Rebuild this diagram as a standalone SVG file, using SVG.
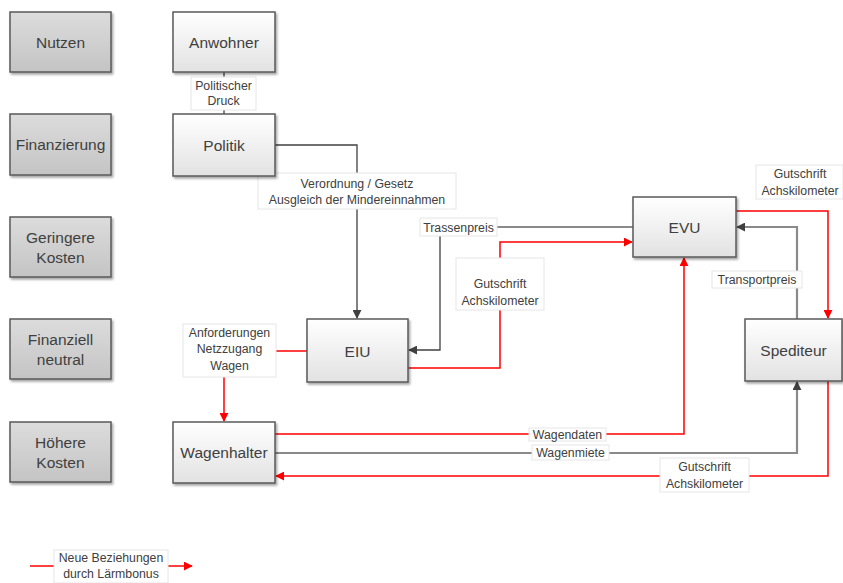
<svg xmlns="http://www.w3.org/2000/svg" width="843" height="583" viewBox="0 0 843 583">
  <defs>
    <linearGradient id="gCat" x1="0" y1="0" x2="0" y2="1">
      <stop offset="0" stop-color="#dcdcdc"/>
      <stop offset="1" stop-color="#c4c4c4"/>
    </linearGradient>
    <linearGradient id="gAct" x1="0" y1="0" x2="0" y2="1">
      <stop offset="0" stop-color="#ffffff"/>
      <stop offset="1" stop-color="#e2e2e2"/>
    </linearGradient>
    <filter id="shadow" x="-10%" y="-10%" width="125%" height="130%">
      <feDropShadow dx="1.5" dy="2" stdDeviation="1.2" flood-color="#000" flood-opacity="0.35"/>
    </filter>
    <marker id="aGray" viewBox="0 0 10 10" refX="9" refY="5" markerWidth="9" markerHeight="9" markerUnits="userSpaceOnUse" orient="auto">
      <path d="M0,0 L10,5 L0,10 z" fill="#404040"/>
    </marker>
    <marker id="aRed" viewBox="0 0 10 10" refX="9" refY="5" markerWidth="9" markerHeight="9" markerUnits="userSpaceOnUse" orient="auto">
      <path d="M0,0 L10,5 L0,10 z" fill="#ff0000"/>
    </marker>
  </defs>
  <style>
    .cat { fill: url(#gCat); stroke: #595959; stroke-width: 1.5; filter: url(#shadow); }
    .act { fill: url(#gAct); stroke: #595959; stroke-width: 1.5; filter: url(#shadow); }
    .big { font-family: "Liberation Sans", Arial, sans-serif; font-size: 15.5px; fill: #404040; text-anchor: middle; dominant-baseline: central; }
    .lbl { font-family: "Liberation Sans", Arial, sans-serif; font-size: 12.3px; fill: #404040; text-anchor: middle; }
    .lblbox { fill: #ffffff; stroke: #e6e6e6; stroke-width: 1; }
    .dark { fill: none; stroke: #404040; stroke-width: 1.3; }
    .gray { fill: none; stroke: #8a8a8a; stroke-width: 2.2; }
    .red { fill: none; stroke: #ff0000; stroke-width: 1.5; }
  </style>

  <rect width="843" height="583" fill="#ffffff"/>

  <!-- category column -->
  <g id="nutzen"><rect class="cat" x="10" y="12" width="101" height="60"/><text class="big" x="60.5" y="42">Nutzen</text></g>
  <g id="finanzierung"><rect class="cat" x="10" y="114" width="101" height="61"/><text class="big" x="60.5" y="144.5">Finanzierung</text></g>
  <g id="geringere-kosten"><rect class="cat" x="10" y="217" width="101" height="60"/><text class="big" x="60.5" y="237">Geringere</text><text class="big" x="60.5" y="257">Kosten</text></g>
  <g id="finanziell-neutral"><rect class="cat" x="10" y="319" width="101" height="60"/><text class="big" x="60.5" y="339">Finanziell</text><text class="big" x="60.5" y="359">neutral</text></g>
  <g id="hoehere-kosten"><rect class="cat" x="10" y="422" width="101" height="60"/><text class="big" x="60.5" y="442">Höhere</text><text class="big" x="60.5" y="462">Kosten</text></g>

  <!-- connectors -->
  <g id="connectors">
    <!-- Anwohner -> Politik -->
    <line class="dark" x1="224" y1="72" x2="224" y2="114"/>
    <!-- Politik -> EIU -->
    <path class="dark" d="M275,145 H357 V318" marker-end="url(#aGray)"/>
    <!-- EVU -> EIU (Trassenpreis) -->
    <path class="gray" d="M633,227 H497"/>
    <path class="dark" d="M440,236 V350 H409" marker-end="url(#aGray)"/>
    <!-- EIU -> EVU (Gutschrift) -->
    <path class="red" d="M408,368 H500 V242 H632" marker-end="url(#aRed)"/>
    <!-- EVU -> Spediteur (Gutschrift) -->
    <path class="red" d="M736,211 H828 V318" marker-end="url(#aRed)"/>
    <!-- Spediteur -> EVU (Transportpreis) -->
    <path class="gray" d="M797,319 V227 H737" marker-end="url(#aGray)"/>
    <!-- EIU -> Wagenhalter (Anforderungen) -->
    <path class="red" d="M307,351 H274"/>
    <path class="red" d="M224,377 V421" marker-end="url(#aRed)"/>
    <!-- Wagenhalter -> EVU (Wagendaten) -->
    <path class="red" d="M275,434 H684 V258" marker-end="url(#aRed)"/>
    <!-- Wagenhalter -> Spediteur (Wagenmiete) -->
    <path class="gray" d="M275,453 H797 V382" marker-end="url(#aGray)"/>
    <!-- Spediteur -> Wagenhalter (Gutschrift) -->
    <path class="red" d="M828,381 V476 H276" marker-end="url(#aRed)"/>
    <!-- legend -->
    <path class="red" d="M30,566 H192" marker-end="url(#aRed)"/>

    <!-- connector labels -->
    <rect class="lblbox" x="191" y="77" width="65" height="33"/>
    <text class="lbl" x="223.5" y="90">Politischer</text>
    <text class="lbl" x="223.5" y="105">Druck</text>

    <rect class="lblbox" x="258" y="173" width="198" height="36"/>
    <text class="lbl" x="357" y="188">Verordnung / Gesetz</text>
    <text class="lbl" x="357" y="204">Ausgleich der Mindereinnahmen</text>

    <rect class="lblbox" x="420" y="218" width="77" height="18"/>
    <text class="lbl" x="458.5" y="231.5">Trassenpreis</text>

    <rect class="lblbox" x="456" y="258" width="88" height="52"/>
    <text class="lbl" x="500" y="288">Gutschrift</text>
    <text class="lbl" x="500" y="305">Achskilometer</text>

    <rect class="lblbox" x="756" y="165" width="87" height="34"/>
    <text class="lbl" x="800" y="178">Gutschrift</text>
    <text class="lbl" x="800" y="195">Achskilometer</text>

    <rect class="lblbox" x="712" y="271" width="90" height="17"/>
    <text class="lbl" x="757" y="284">Transportpreis</text>

    <rect class="lblbox" x="183" y="324" width="93" height="53"/>
    <text class="lbl" x="229.5" y="337">Anforderungen</text>
    <text class="lbl" x="229.5" y="353">Netzzugang</text>
    <text class="lbl" x="229.5" y="370">Wagen</text>

    <rect class="lblbox" x="529" y="428" width="77" height="13"/>
    <text class="lbl" x="567.5" y="439">Wagendaten</text>

    <rect class="lblbox" x="532" y="445" width="77" height="15"/>
    <text class="lbl" x="570.5" y="456.5">Wagenmiete</text>

    <rect class="lblbox" x="660" y="458" width="89" height="34"/>
    <text class="lbl" x="704.5" y="471">Gutschrift</text>
    <text class="lbl" x="704.5" y="488">Achskilometer</text>

    <rect class="lblbox" x="54" y="550" width="114" height="33"/>
    <text class="lbl" x="111" y="562">Neue Beziehungen</text>
    <text class="lbl" x="111" y="578">durch Lärmbonus</text>
  </g>

  <!-- actors -->
  <g id="anwohner"><rect class="act" x="173" y="12" width="102" height="60"/><text class="big" x="224" y="42">Anwohner</text></g>
  <g id="politik"><rect class="act" x="173" y="114" width="102" height="62"/><text class="big" x="224" y="145">Politik</text></g>
  <g id="evu"><rect class="act" x="633" y="197" width="103" height="60"/><text class="big" x="684.5" y="227">EVU</text></g>
  <g id="eiu"><rect class="act" x="307" y="319" width="101" height="63"/><text class="big" x="357.5" y="351">EIU</text></g>
  <g id="spediteur"><rect class="act" x="745" y="319" width="97" height="62"/><text class="big" x="793.5" y="350">Spediteur</text></g>
  <g id="wagenhalter"><rect class="act" x="173" y="422" width="102" height="61"/><text class="big" x="224" y="452.5">Wagenhalter</text></g>
</svg>
